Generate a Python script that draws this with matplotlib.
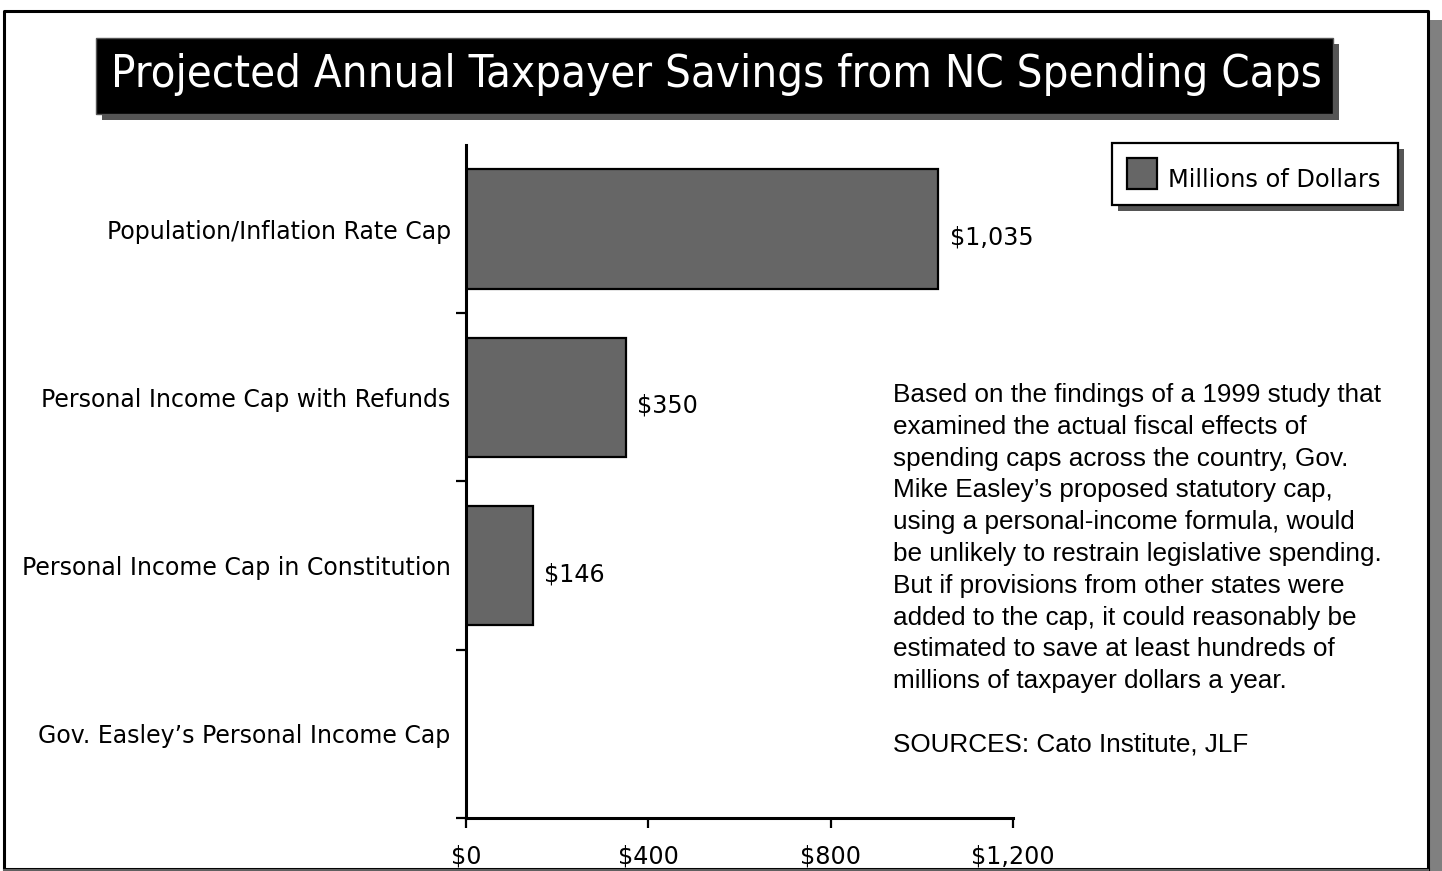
import matplotlib
matplotlib.use("Agg")
import matplotlib.pyplot as plt
from matplotlib.patches import Rectangle
from matplotlib.lines import Line2D
from matplotlib import font_manager
import numpy as np

# Data
categories = ["Population/Inflation Rate Cap",
              "Personal Income Cap with Refunds",
              "Personal Income Cap in Constitution",
              "Gov. Easley\u2019s Personal Income Cap"]
savings = [1035, 350, 146, 0]
value_labels = ["$1,035", "$350", "$146", ""]
x_ticks = [0, 400, 800, 1200]
x_tick_labels = ["$0", "$400", "$800", "$1,200"]
title = "Projected Annual Taxpayer Savings from NC Spending Caps"
legend_label = "Millions of Dollars"
note = ("Based on the findings of a 1999 study that\n"
        "examined the actual fiscal effects of\n"
        "spending caps across the country, Gov.\n"
        "Mike Easley\u2019s proposed statutory cap,\n"
        "using a personal-income formula, would\n"
        "be unlikely to restrain legislative spending.\n"
        "But if provisions from other states were\n"
        "added to the cap, it could reasonably be\n"
        "estimated to save at least hundreds of\n"
        "millions of taxpayer dollars a year.\n"
        "\n"
        "SOURCES: Cato Institute, JLF")

# pick the regular-width Liberation Sans for the note
note_font = None
for e in font_manager.fontManager.ttflist:
    if (e.name == "Liberation Sans" and e.style == "normal" and e.weight == 400
            and "narrow" not in e.fname.lower()):
        note_font = e.fname
        break
if note_font:
    note_prop = font_manager.FontProperties(fname=note_font, size=18.8)
else:
    note_prop = font_manager.FontProperties(family="Liberation Sans", size=18.8)

W, H = 1442, 871
fig = plt.figure(figsize=(W / 100, H / 100), dpi=100)
fig.patch.set_facecolor("white")

def fx(x):
    return x / W

def fy(y):
    return 1 - y / H

def rect_px(x0, y0, x1, y1, **kw):
    # rectangle from pixel corners (top-left origin)
    r = Rectangle((fx(x0), fy(y1)), fx(x1) - fx(x0), fy(y0) - fy(y1),
                  transform=fig.transFigure, **kw)
    fig.patches.append(r)
    return r

def line_px(xs, ys, **kw):
    fig.lines.append(Line2D([fx(v) for v in xs], [fy(v) for v in ys],
                            transform=fig.transFigure, **kw))

# outer frame with shadow
rect_px(1429, 20, 1442, 871, facecolor="#808080", edgecolor="none", zorder=0)
line_px([1428, 4, 4, 1428, 1428], [869, 869, 11, 11, 869], color="black", linewidth=2.2, zorder=1)
line_px([4, 1428], [869.5, 869.5], color="#606060", linewidth=1.5, zorder=1)

# title box with shadow
rect_px(102, 44, 1339, 120, facecolor="#555555", edgecolor="none", zorder=2)
rect_px(96, 38, 1333, 114, facecolor="black", edgecolor="#555555", linewidth=1, zorder=3)
fig.text(fx(716), fy(74), title, color="white", fontsize=32.6, fontstretch="condensed",
         family=["DejaVu Sans"], ha="center", va="center", zorder=4)

# legend box with shadow
rect_px(1118, 149, 1404, 211, facecolor="#555555", edgecolor="none", zorder=2)
rect_px(1112, 143, 1398, 205, facecolor="white", edgecolor="black", linewidth=1.6, zorder=3)
rect_px(1127, 158, 1157, 189, facecolor="#666666", edgecolor="black", linewidth=1.6, zorder=4)
fig.text(fx(1168), fy(180), legend_label, fontsize=17.4, family=["DejaVu Sans"],
         ha="left", va="center", zorder=4)

# chart
ax = fig.add_axes([fx(466), fy(818), fx(1013) - fx(466), fy(145) - fy(818)])
ax.set_zorder(5)
ax.patch.set_alpha(0)
y = np.arange(len(categories))
ax.barh(y, savings, height=0.71, color="#666666", edgecolor="black", linewidth=1.6)
for yi, v, lab in zip(y, savings, value_labels):
    ax.text(v + 26, yi + 0.05, lab, fontsize=17.2, family=["DejaVu Sans"],
            ha="left", va="center")

ax.set_xlim(0, 1200)
ax.set_ylim(len(categories) - 0.5, -0.5)
ax.set_xticks(x_ticks)
ax.set_xticklabels(x_tick_labels, fontsize=17.2, family=["DejaVu Sans"])
ax.set_yticks(y)
ax.set_yticklabels(categories, fontsize=17, family=["DejaVu Sans"])
ax.set_yticks(np.arange(len(categories)) + 0.5, minor=True)
ax.tick_params(axis="y", which="major", length=0, pad=11)
ax.tick_params(axis="y", which="minor", length=7, width=1.6, direction="out")
ax.tick_params(axis="x", length=7, width=1.6, direction="out", pad=12)
for s in ["top", "right"]:
    ax.spines[s].set_visible(False)
for s in ["left", "bottom"]:
    ax.spines[s].set_linewidth(2.2)

fig.text(fx(893), fy(383), note, fontproperties=note_prop,
         ha="left", va="top", linespacing=1.41, zorder=6)

fig.savefig("out.png", dpi=100)
